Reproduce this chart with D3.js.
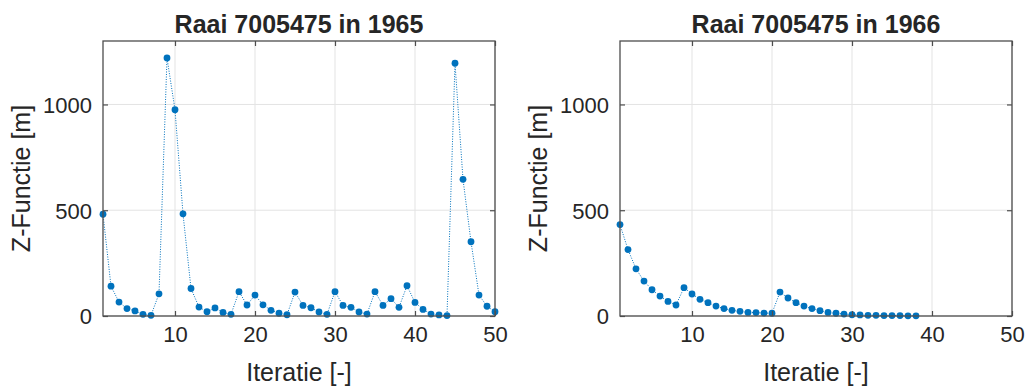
<!DOCTYPE html>
<html>
<head>
<meta charset="utf-8">
<script src="https://cdn.jsdelivr.net/npm/d3@7"></script>
<style>
  html, body { margin: 0; padding: 0; background: #fff; }
  svg { display: block; }
  text { font-family: "Liberation Sans", Arial, Helvetica, sans-serif; fill: #262626; }
</style>
</head>
<body>
<svg id="chart" width="1027" height="387"></svg>
<script>
// ---- data ----
const titles = ["Raai 7005475 in 1965", "Raai 7005475 in 1966"];
const xTicks = [10, 20, 30, 40, 50];
const yTicks = [0, 500, 1000];
const xLabel = "Iteratie [-]";
const yLabel = "Z-Functie [m]";

const z1965 = [481, 141, 66, 35, 24, 8, 3, 105, 1220, 975,
               483, 130, 42, 20, 38, 17, 8, 115, 52, 99,
               53, 27, 13, 6, 113, 50, 39, 19, 8, 115,
               50, 41, 19, 9, 115, 50, 82, 41, 143, 64,
               31, 9, 5, 2, 1195, 646, 351, 99, 46, 20];
const z1966 = [432, 314, 223, 165, 124, 94, 69, 52, 134, 104,
               79, 63, 47, 35, 27, 22, 17, 16, 14, 13,
               113, 85, 63, 47, 35, 25, 17, 13, 9, 6,
               5, 3, 3, 2, 2, 2, 1, 1];
const seriesList = [z1965, z1966];

// ---- layout ----
const panels = [
  {left: 103, right: 495},
  {left: 620, right: 1012}
];
const plotTop = 41, plotBottom = 316;
const xDomain = [1, 50], yDomain = [0, 1300];
const blue = "#0072BD";
const axisColor = "#4d4d4d";
const gridColor = "#e3e3e3";

const svg = d3.select("#chart");

panels.forEach((p, i) => {
  const data = seriesList[i].map((v, k) => ({x: k + 1, y: v}));
  const x = d3.scaleLinear().domain(xDomain).range([p.left, p.right]);
  const y = d3.scaleLinear().domain(yDomain).range([plotBottom, plotTop]);
  const g = svg.append("g");

  // grid
  g.selectAll(".gx").data(xTicks).enter().append("line")
    .attr("x1", d => x(d)).attr("x2", d => x(d))
    .attr("y1", plotTop).attr("y2", plotBottom)
    .attr("stroke", gridColor).attr("stroke-width", 1);
  g.selectAll(".gy").data(yTicks).enter().append("line")
    .attr("x1", p.left).attr("x2", p.right)
    .attr("y1", d => y(d)).attr("y2", d => y(d))
    .attr("stroke", gridColor).attr("stroke-width", 1);

  // line + markers
  const line = d3.line().x(d => x(d.x)).y(d => y(d.y));
  g.append("path").datum(data)
    .attr("d", line).attr("fill", "none")
    .attr("stroke", blue).attr("stroke-width", 1)
    .attr("stroke-dasharray", "1,1.5");
  g.selectAll(".pt").data(data).enter().append("circle")
    .attr("cx", d => x(d.x)).attr("cy", d => y(d.y))
    .attr("r", 3.4).attr("fill", blue);

  // axes (ticks inside)
  const tl = 5;
  const fmt = d3.format("d");
  const bx = d3.axisBottom(x).tickValues(xTicks).tickSize(-tl).tickPadding(10).tickFormat(fmt);
  const ax = g.append("g").attr("transform", `translate(0,${plotBottom})`).call(bx);
  const tx = d3.axisTop(x).tickValues(xTicks).tickSize(-tl).tickFormat("");
  const atx = g.append("g").attr("transform", `translate(0,${plotTop})`).call(tx);
  const ly = d3.axisLeft(y).tickValues(yTicks).tickSize(-tl).tickPadding(11).tickFormat(fmt);
  const ay = g.append("g").attr("transform", `translate(${p.left},0)`).call(ly);
  const ry = d3.axisRight(y).tickValues(yTicks).tickSize(-tl).tickFormat("");
  const ary = g.append("g").attr("transform", `translate(${p.right},0)`).call(ry);
  [ax, atx, ay, ary].forEach(a => {
    a.select(".domain").remove();
    a.selectAll(".tick line").attr("stroke", axisColor).attr("stroke-width", 1.2);
    a.selectAll("text").attr("font-size", 22).attr("fill", "#262626")
      .attr("font-family", "Liberation Sans, Arial, sans-serif");
  });
  ax.selectAll("text").attr("dy", "0.71em");
  ay.selectAll("text").attr("dy", "0.36em");

  // box
  g.append("rect")
    .attr("x", p.left).attr("y", plotTop)
    .attr("width", p.right - p.left).attr("height", plotBottom - plotTop)
    .attr("fill", "none").attr("stroke", axisColor).attr("stroke-width", 1.3);

  const cx = (p.left + p.right) / 2;
  // title
  g.append("text").attr("x", cx).attr("y", 33)
    .attr("text-anchor", "middle").attr("font-size", 25).attr("font-weight", "bold")
    .attr("fill", "#000").text(titles[i]);
  // x label
  g.append("text").attr("x", cx).attr("y", 381)
    .attr("text-anchor", "middle").attr("font-size", 25).text(xLabel);
  // y label
  g.append("text")
    .attr("transform", `translate(${p.left - 73},${(plotTop + plotBottom) / 2}) rotate(-90)`)
    .attr("text-anchor", "middle").attr("font-size", 25).text(yLabel);
});
</script>
</body>
</html>
